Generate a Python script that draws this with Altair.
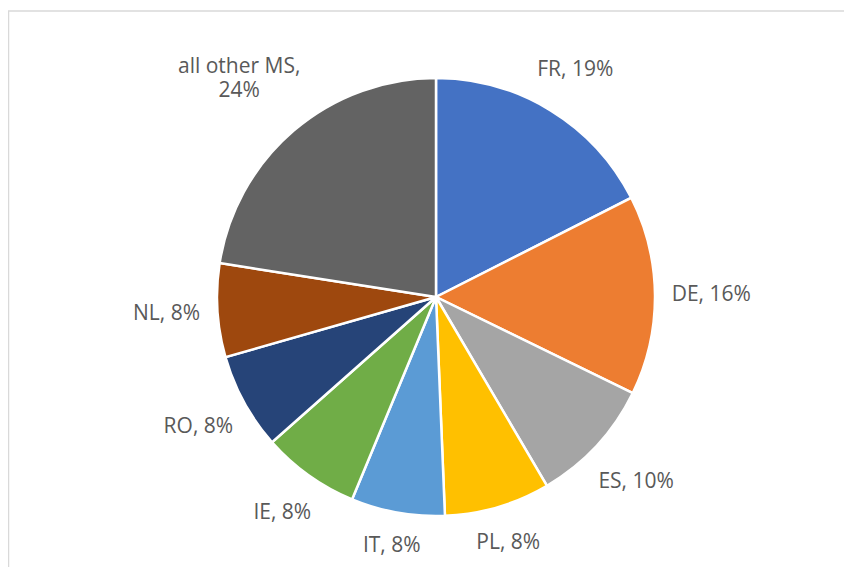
import altair as alt
import pandas as pd

categories = ["FR", "DE", "ES", "PL", "IT", "IE", "RO", "NL", "all other MS"]
shares = [17.5, 14.7, 9.3, 7.8, 6.9, 7.2, 7.1, 6.9, 22.5]
labels = ["FR, 19%", "DE, 16%", "ES, 10%", "PL, 8%", "IT, 8%", "IE, 8%",
          "RO, 8%", "NL, 8%", "all other MS,\n24%"]
colors = ["#4472C4", "#ED7D31", "#A5A5A5", "#FFC000", "#5B9BD5", "#70AD47",
          "#264478", "#9E480E", "#636363"]

df = pd.DataFrame({
    "cat": categories,
    "share": shares,
    "label": labels,
    "order": list(range(len(categories))),
})

W, H = 836, 559
CX, CY = 428, 289
R = 219
FS = 21

pie = alt.Chart(df).mark_arc(outerRadius=R, stroke="white", strokeWidth=2.5).encode(
    theta=alt.Theta("share:Q", stack=True),
    order=alt.Order("order:Q"),
    color=alt.Color("cat:N", scale=alt.Scale(domain=categories, range=colors), legend=None),
    x=alt.value(CX),
    y=alt.value(CY),
)

# label at the slice mid-angle, outside the pie edge, pushed out by the half-extent of the text box
text = alt.Chart(df).transform_window(
    cum="sum(share)", sort=[alt.SortField("order")], frame=[None, 0]
).transform_joinaggregate(
    total="sum(share)"
).transform_calculate(
    mid="2*PI*(datum.cum - datum.share/2)/datum.total",
    hw=f"length(split(datum.label, '\\n')[0]) * {FS * 0.28}",
    hh=f"length(split(datum.label, '\\n')) * {FS * 0.6}",
).transform_calculate(
    r=f"{R} + 15 + datum.hw*abs(sin(datum.mid)) + datum.hh*abs(cos(datum.mid))"
).mark_text(font="Open Sans", fontSize=FS, color="#595959", lineBreak="\n",
            lineHeight=24).encode(
    theta=alt.Theta("mid:Q", scale=None, stack=False),
    radius=alt.Radius("r:Q", scale=None, stack=False),
    text="label:N",
    x=alt.value(CX),
    y=alt.value(CY),
)

frame_df = pd.DataFrame({"v": [0]})
top = alt.Chart(frame_df).mark_rule(color="#d9d9d9", strokeWidth=1.5).encode(
    x=alt.value(0), x2=alt.value(W), y=alt.value(3)
)
left = alt.Chart(frame_df).mark_rule(color="#d9d9d9", strokeWidth=1.5).encode(
    x=alt.value(0.5), y=alt.value(3), y2=alt.value(H)
)

chart = alt.layer(top, left, pie, text).resolve_scale(
    theta="independent", radius="independent"
).properties(
    width=W, height=H, padding=0, autosize=alt.AutoSizeParams(type="none")
).configure_view(stroke=None)

chart.save("out.html", embed_options={"renderer": "svg", "actions": False})
